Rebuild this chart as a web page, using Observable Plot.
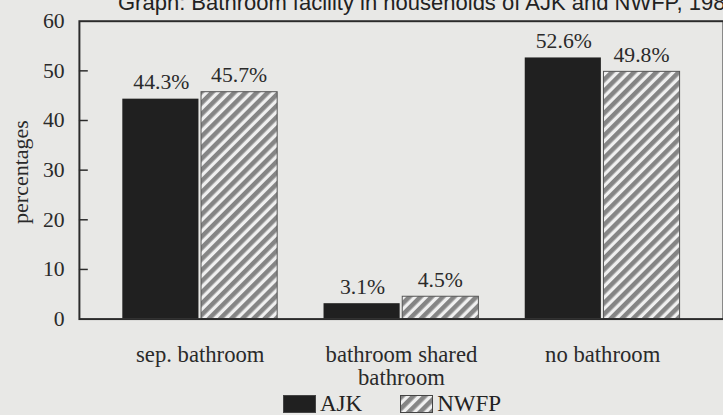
<!DOCTYPE html>
<html><head><meta charset="utf-8">
<script src="https://cdn.jsdelivr.net/npm/d3@7"></script>
<script src="https://cdn.jsdelivr.net/npm/@observablehq/plot@0.6"></script>
<style>
html,body{margin:0;padding:0;width:723px;height:415px;overflow:hidden;background:#e8e8e6;}
#wrap{position:relative;width:723px;height:415px;overflow:hidden;}
#title{position:absolute;left:118px;top:-10px;font-family:"Liberation Sans",Arial,sans-serif;font-size:22px;color:#222;white-space:nowrap;}
#chart{position:absolute;left:0;top:0;}
#ylabel{position:absolute;left:21px;top:172px;transform:translate(-50%,-50%) rotate(-90deg);font-family:"Liberation Serif",serif;font-size:22px;color:#2a2a2a;white-space:nowrap;}
#legend{position:absolute;left:283px;top:394px;display:flex;align-items:center;font-family:"Liberation Serif",serif;font-size:23px;line-height:20px;color:#222;}
#legend .item{display:flex;align-items:center;margin-right:38px;}
#legend svg{margin-right:4px;}
</style></head>
<body>
<div id="wrap">
  <div id="title">Graph: Bathroom facility in households of AJK and NWFP, 1981</div>
  <div id="chart"></div>
  <div id="ylabel">percentages</div>
  <div id="legend"></div>
</div>
<script>
const categories = ["sep. bathroom", "bathroom shared\nbathroom", "no bathroom"];
const series = ["AJK", "NWFP"];
const ajk = [44.3, 3.1, 52.6];
const nwfp = [45.7, 4.5, 49.8];
const yTicks = [0, 10, 20, 30, 40, 50, 60];
const seriesFill = {AJK: "#202020", NWFP: "url(#hatch)"};

const ajkData = categories.map((c, i) => ({cat: c, s: "AJK", v: ajk[i]}));
const nwfpData = categories.map((c, i) => ({cat: c, s: "NWFP", v: nwfp[i]}));

const W = 733, ML = 80, PI = 0.23, PO = 0.21, TICK = 9;
const band = d3.scaleBand().domain(categories).range([ML, W]).paddingInner(PI).paddingOuter(PO);
const half = band.bandwidth() / 2;

const chart = Plot.plot({
  width: W, height: 390,
  marginLeft: ML, marginRight: 0, marginTop: 21, marginBottom: 67,
  style: {background: "transparent", fontFamily: "'Liberation Serif', serif", color: "#2a2a2a"},
  x: {domain: categories, paddingInner: PI, paddingOuter: PO, label: null},
  y: {domain: [0, 60], label: null},
  marks: [
    Plot.barY(ajkData, {x: "cat", y: "v", insetRight: half + 1, fill: seriesFill.AJK}),
    Plot.barY(nwfpData, {x: "cat", y: "v", insetLeft: half + 1, fill: seriesFill.NWFP, stroke: "#555", strokeWidth: 1}),
    Plot.text(ajkData, {x: "cat", y: "v", dx: -half / 2, dy: -17, text: d => d.v.toFixed(1) + "%", fontSize: 22, fill: "#2a2a2a"}),
    Plot.text(nwfpData, {x: "cat", y: "v", dx: half / 2, dy: -17, text: d => d.v.toFixed(1) + "%", fontSize: 22, fill: "#2a2a2a"}),
    Plot.frame({stroke: "#2b2b2b", strokeWidth: 2}),
    Plot.ruleY(yTicks.slice(1, -1), {y: d => d, insetRight: W - ML - TICK, stroke: "#2b2b2b", strokeWidth: 1.5}),
    Plot.axisY({ticks: yTicks, tickSize: 0, tickPadding: 15, fontSize: 22, label: null}),
    Plot.axisX({tickSize: 0, tickPadding: 26, fontSize: 23, lineHeight: 1.05, label: null})
  ]
});

const ns = "http://www.w3.org/2000/svg";
const defs = document.createElementNS(ns, "defs");
defs.innerHTML = `<pattern id="hatch" patternUnits="userSpaceOnUse" width="8" height="8" patternTransform="rotate(45)"><rect width="8" height="8" fill="#f0f0f0"/><rect width="4.6" height="8" fill="#858585"/></pattern>`;
chart.insertBefore(defs, chart.firstChild);
document.getElementById("chart").appendChild(chart);

const legend = document.getElementById("legend");
series.forEach(s => {
  const item = document.createElement("div");
  item.className = "item";
  item.innerHTML = `<svg width="33" height="18"><rect x="0.5" y="0.5" width="32" height="17" fill="${seriesFill[s]}" stroke="#444"/></svg><span>${s}</span>`;
  legend.appendChild(item);
});
</script>
</body></html>
